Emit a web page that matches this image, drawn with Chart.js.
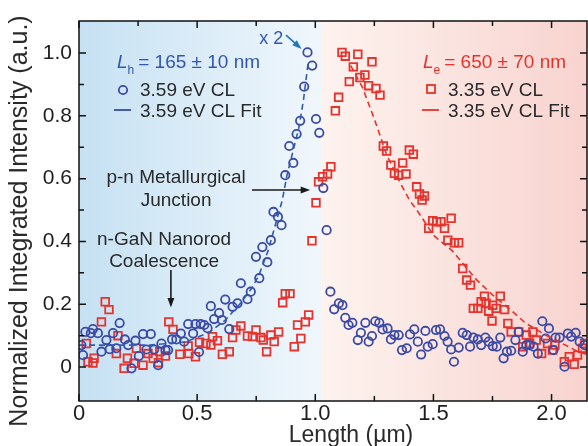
<!DOCTYPE html>
<html>
<head>
<meta charset="utf-8">
<script src="https://cdn.jsdelivr.net/npm/chart.js@4.4.1/dist/chart.umd.min.js"></script>
<style>
  html, body { margin: 0; padding: 0; background: #fff; }
  canvas { display: block; }
</style>
</head>
<body>
<canvas id="clChart" width="588" height="446"></canvas>
<script>
// 3.59 eV CL (circles)
const holeLen = [0.010,0.017,0.027,0.050,0.059,0.080,0.095,0.116,0.130,0.144,0.158,0.172,0.194,0.208,0.222,0.239,0.253,0.271,0.285,0.304,0.318,0.335,0.349,0.366,0.377,0.394,0.412,0.431,0.445,0.462,0.483,0.493,0.508,0.515,0.530,0.544,0.558,0.572,0.593,0.605,0.619,0.636,0.650,0.671,0.685,0.713,0.727,0.749,0.763,0.776,0.797,0.812,0.823,0.842,0.857,0.873,0.890,0.907,0.921,0.936,0.953,0.967,0.987,1.003,1.017,1.034,1.048,1.064,1.080,1.100,1.115,1.127,1.141,1.157,1.180,1.193,1.212,1.226,1.240,1.254,1.271,1.285,1.306,1.320,1.335,1.353,1.367,1.387,1.401,1.419,1.434,1.448,1.466,1.476,1.497,1.511,1.528,1.547,1.560,1.575,1.587,1.607,1.624,1.641,1.655,1.669,1.688,1.702,1.720,1.734,1.751,1.768,1.783,1.797,1.811,1.829,1.847,1.861,1.878,1.893,1.907,1.924,1.942,1.961,1.975,1.989,2.008,2.017,2.034,2.055,2.069,2.083,2.102,2.119,2.140];
const holeInt = [0.070,0.038,0.112,0.108,0.121,0.108,0.049,0.086,0.057,0.108,0.060,0.140,0.088,0.070,-0.004,0.084,0.035,0.105,0.056,0.105,0.056,0.006,0.075,0.054,0.054,0.088,0.088,0.107,0.081,0.137,0.107,0.137,0.048,0.137,0.134,0.124,0.194,0.153,0.172,0.150,0.215,0.121,0.192,0.203,0.267,0.216,0.240,0.351,0.283,0.382,0.334,0.404,0.494,0.478,0.452,0.611,0.704,0.650,0.742,0.784,0.893,1.002,0.960,0.790,0.746,0.570,0.436,0.240,0.184,0.203,0.197,0.157,0.134,0.141,0.086,0.109,0.141,0.081,0.099,0.146,0.141,0.120,0.123,0.088,0.102,0.102,0.054,0.060,0.104,0.120,0.081,0.040,0.115,0.065,0.073,0.118,0.120,0.099,0.081,0.056,0.017,0.062,0.109,0.102,0.065,0.094,0.088,0.070,0.094,0.081,0.067,0.065,0.094,0.028,0.049,0.052,0.086,0.112,0.049,0.070,0.070,0.065,0.043,0.146,0.091,0.123,0.054,0.094,0.094,0.001,0.107,0.097,0.109,0.081,0.070];

// 3.35 eV CL (squares)
const elecLen = [0.031,0.038,0.059,0.064,0.095,0.111,0.127,0.158,0.165,0.191,0.205,0.233,0.243,0.271,0.292,0.314,0.336,0.342,0.366,0.380,0.398,0.427,0.462,0.465,0.493,0.510,0.537,0.558,0.565,0.586,0.607,0.636,0.650,0.664,0.685,0.713,0.734,0.749,0.770,0.780,0.794,0.812,0.826,0.845,0.862,0.873,0.893,0.911,0.925,0.939,0.958,0.972,0.986,1.003,1.014,1.031,1.052,1.066,1.085,1.099,1.113,1.127,1.144,1.161,1.180,1.189,1.210,1.226,1.240,1.257,1.274,1.288,1.302,1.320,1.335,1.353,1.370,1.384,1.398,1.415,1.429,1.441,1.452,1.462,1.480,1.497,1.514,1.532,1.547,1.561,1.575,1.589,1.607,1.624,1.641,1.657,1.669,1.688,1.702,1.716,1.723,1.734,1.748,1.751,1.766,1.783,1.801,1.815,1.829,1.861,1.878,1.893,1.907,1.921,1.935,1.958,1.983,2.004,2.014,2.054,2.075,2.096,2.110,2.131,2.140];
const elecInt = [0.075,0.017,0.013,0.028,0.144,0.208,0.183,0.043,0.100,-0.004,0.028,0.012,0.060,0.006,0.043,0.028,0.014,0.049,0.035,0.144,0.120,0.041,0.067,0.043,0.033,0.079,0.075,0.070,0.097,0.084,0.041,0.049,0.094,0.118,0.131,0.099,0.097,0.118,0.094,0.086,0.049,0.102,0.081,0.112,0.205,0.234,0.234,0.065,0.134,0.091,0.144,0.166,0.402,0.523,0.590,0.606,0.615,0.638,0.816,0.859,1.002,0.990,0.909,0.956,0.996,0.922,0.930,0.896,0.972,0.887,0.866,0.704,0.688,0.643,0.617,0.611,0.650,0.615,0.691,0.678,0.574,0.551,0.532,0.545,0.442,0.466,0.463,0.463,0.442,0.404,0.474,0.396,0.396,0.314,0.277,0.261,0.187,0.187,0.208,0.226,0.203,0.178,0.147,0.197,0.187,0.226,0.183,0.139,0.112,0.112,0.065,0.102,0.075,0.112,0.086,0.043,0.075,0.054,0.070,0.017,0.033,0.009,0.038,0.060,0.075];

// fit curves
const holeFitLen = [0.00,0.30,0.45,0.55,0.62,0.68,0.73,0.76,0.80,0.83,0.86,0.88,0.90,0.93,0.95,0.97];
const holeFitInt = [0.07,0.07,0.08,0.11,0.15,0.20,0.25,0.29,0.37,0.45,0.53,0.61,0.67,0.76,0.85,0.97];
const elecFitLen = [1.15,1.20,1.25,1.30,1.35,1.40,1.43,1.50,1.58,1.68,1.75,1.83,1.89,1.98,2.11,2.15];
const elecFitInt = [0.96,0.89,0.79,0.68,0.60,0.53,0.50,0.42,0.37,0.28,0.23,0.18,0.14,0.10,0.05,0.04];

const xTicks = [0, 0.5, 1.0, 1.5, 2.0];
const xMinor = [0.25, 0.75, 1.25, 1.75];
const yTicks = [0, 0.2, 0.4, 0.6, 0.8, 1.0];
const yMinor = [0.1, 0.3, 0.5, 0.7, 0.9];

const BLUE = '#3b4aa6';
const BLUE_TXT = '#3456b2';
const RED = '#e8322c';
const INK = '#2a2a2a';
const FONT = 'Arial, "Liberation Sans", sans-serif';

const toPts = (xs, ys) => xs.map((x, i) => ({ x: x, y: ys[i] }));

function arrow(ctx, x1, y1, x2, y2, color) {
    const a = Math.atan2(y2 - y1, x2 - x1);
    const head = 10;
    ctx.save();
    ctx.strokeStyle = color; ctx.fillStyle = color; ctx.lineWidth = 1.6;
    ctx.beginPath();
    ctx.moveTo(x1, y1);
    ctx.lineTo(x2 - Math.cos(a) * head * 0.8, y2 - Math.sin(a) * head * 0.8);
    ctx.stroke();
    ctx.beginPath();
    ctx.moveTo(x2, y2);
    ctx.lineTo(x2 - head * Math.cos(a - 0.35), y2 - head * Math.sin(a - 0.35));
    ctx.lineTo(x2 - head * Math.cos(a + 0.35), y2 - head * Math.sin(a + 0.35));
    ctx.closePath();
    ctx.fill();
    ctx.restore();
}

// L with subscript, then the rest of the string
function lengthLabel(ctx, x, y, sub, rest, color) {
    ctx.fillStyle = color;
    ctx.font = 'italic 19px ' + FONT;
    ctx.fillText('L', x, y);
    let w = ctx.measureText('L').width;
    ctx.font = '12px ' + FONT;
    ctx.fillText(sub, x + w, y + 6);
    w += ctx.measureText(sub).width + 4;
    ctx.font = '19px ' + FONT;
    ctx.fillText(rest, x + w, y);
}

const deco = {
    id: 'deco',
    beforeDatasetsDraw(chart) {
        const { ctx, chartArea: a, scales: { x } } = chart;
        const split = x.getPixelForValue(1.025);
        ctx.save();
        let g = ctx.createLinearGradient(a.left, 0, split, 0);
        g.addColorStop(0, '#c6e1f3');
        g.addColorStop(1, '#f0f7fc');
        ctx.fillStyle = g;
        ctx.fillRect(a.left, a.top, split - a.left, a.bottom - a.top);
        g = ctx.createLinearGradient(split, 0, a.right, 0);
        g.addColorStop(0, '#fdf3ef');
        g.addColorStop(1, '#f8d3cf');
        ctx.fillStyle = g;
        ctx.fillRect(split, a.top, a.right - split, a.bottom - a.top);
        ctx.restore();
    },
    afterDatasetsDraw(chart) {
        const { ctx, chartArea: a, scales: { x, y } } = chart;
        ctx.save();
        // frame + inward ticks
        ctx.strokeStyle = '#111';
        ctx.lineWidth = 1.5;
        ctx.strokeRect(a.left, a.top, a.right - a.left, a.bottom - a.top);
        ctx.beginPath();
        const tickX = (vals, len) => vals.forEach(v => {
            const px = x.getPixelForValue(v);
            ctx.moveTo(px, a.bottom); ctx.lineTo(px, a.bottom - len);
            ctx.moveTo(px, a.top); ctx.lineTo(px, a.top + len);
        });
        const tickY = (vals, len) => vals.forEach(v => {
            const py = y.getPixelForValue(v);
            ctx.moveTo(a.left, py); ctx.lineTo(a.left + len, py);
            ctx.moveTo(a.right, py); ctx.lineTo(a.right - len, py);
        });
        tickX(xTicks, 7); tickX(xMinor, 5);
        tickY(yTicks, 7); tickY(yMinor, 5);
        ctx.stroke();

        // legends
        ctx.textAlign = 'left';
        ctx.textBaseline = 'alphabetic';
        lengthLabel(ctx, 117, 68, 'h', '= 165 \u00b1 10 nm', BLUE_TXT);
        ctx.strokeStyle = BLUE; ctx.lineWidth = 1.8;
        ctx.beginPath(); ctx.arc(123, 90, 4.2, 0, Math.PI * 2); ctx.stroke();
        ctx.beginPath(); ctx.moveTo(114, 110); ctx.lineTo(131, 110); ctx.stroke();
        ctx.fillStyle = INK; ctx.font = '19px ' + FONT;
        ctx.fillText('3.59 eV CL', 140, 96);
        ctx.fillText('3.59 eV CL Fit', 140, 117);

        lengthLabel(ctx, 423, 68, 'e', '= 650 \u00b1 70 nm', RED);
        ctx.strokeStyle = RED;
        ctx.strokeRect(427, 85, 8, 8);
        ctx.beginPath(); ctx.moveTo(422, 110); ctx.lineTo(439, 110); ctx.stroke();
        ctx.fillStyle = INK; ctx.font = '19px ' + FONT;
        ctx.fillText('3.35 eV CL', 448, 96);
        ctx.fillText('3.35 eV CL Fit', 448, 117);

        // annotations (data coordinates)
        const px = v => x.getPixelForValue(v);
        const py = v => y.getPixelForValue(v);
        ctx.textAlign = 'center';
        ctx.fillStyle = BLUE_TXT; ctx.font = '18px ' + FONT;
        ctx.fillText('x 2', px(0.814), py(1.029));
        arrow(ctx, px(0.876), py(1.057), px(0.942), py(1.013), '#2277bb');

        ctx.fillStyle = INK; ctx.font = '19px ' + FONT;
        ctx.fillText('p-n Metallurgical', px(0.411), py(0.585));
        ctx.fillText('Junction', px(0.411), py(0.514));
        arrow(ctx, px(0.732), py(0.564), px(0.978), py(0.564), '#1a1a1a');

        ctx.fillText('n-GaN Nanorod', px(0.36), py(0.389));
        ctx.fillText('Coalescence', px(0.36), py(0.318));
        arrow(ctx, px(0.389), py(0.309), px(0.389), py(0.190), '#1a1a1a');

        // axis titles
        ctx.fillStyle = INK;
        ctx.font = '23px ' + FONT;
        ctx.fillText('Length (\u00b5m)', 351, 442);
        ctx.translate(27, 221);
        ctx.rotate(-Math.PI / 2);
        ctx.font = '25px ' + FONT;
        ctx.fillText('Normalized Integrated Intensity (a.u.)', 0, 0);
        ctx.restore();
    }
};

new Chart(document.getElementById('clChart'), {
    type: 'scatter',
    data: {
        datasets: [
            { label: '3.59 eV CL Fit', data: toPts(holeFitLen, holeFitInt), showLine: true, pointRadius: 0,
              borderColor: '#2f5bb3', borderWidth: 1.6, borderDash: [6, 4], order: 0 },
            { label: '3.35 eV CL Fit', data: toPts(elecFitLen, elecFitInt), showLine: true, pointRadius: 0,
              borderColor: RED, borderWidth: 1.6, borderDash: [6, 4], order: 0 },
            { label: '3.59 eV CL', data: toPts(holeLen, holeInt), pointStyle: 'circle', pointRadius: 4.2,
              borderColor: BLUE, borderWidth: 1.8, backgroundColor: 'rgba(0,0,0,0)', order: 1 },
            { label: '3.35 eV CL', data: toPts(elecLen, elecInt), pointStyle: 'rect', pointRadius: 5.4,
              borderColor: RED, borderWidth: 1.8, backgroundColor: 'rgba(0,0,0,0)', order: 2 }
        ]
    },
    options: {
        responsive: false,
        animation: false,
        // no automatic room for point radius, the plot runs to the canvas edge
        layout: { autoPadding: false, padding: { top: 21, right: 1, left: 0, bottom: 0 } },
        plugins: { legend: { display: false }, tooltip: { enabled: false } },
        scales: {
            x: {
                type: 'linear', min: 0, max: 2.15,
                afterBuildTicks: s => { s.ticks = xTicks.map(v => ({ value: v })); },
                afterFit: s => { s.height = 45; },
                grid: { display: false, drawTicks: false },
                border: { display: false },
                ticks: { padding: 0, autoSkip: false, maxRotation: 0, color: '#1e1e1e',
                         font: { family: FONT, size: 22 },
                         callback: v => v === 0 ? '0' : v.toFixed(1) }
            },
            y: {
                type: 'linear', min: -0.108, max: 1.102,
                afterBuildTicks: s => { s.ticks = yTicks.map(v => ({ value: v })); },
                afterFit: s => { s.width = 79; },
                grid: { display: false, drawTicks: false },
                border: { display: false },
                ticks: { padding: 7, color: '#1e1e1e',
                         font: { family: FONT, size: 21 },
                         callback: v => v === 0 ? '0' : v.toFixed(1) }
            }
        }
    },
    plugins: [deco]
});
</script>
</body>
</html>
